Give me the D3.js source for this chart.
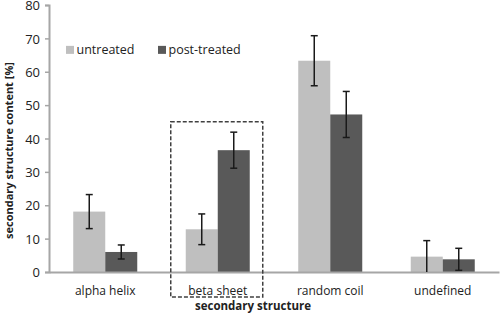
<!DOCTYPE html>
<html>
<head>
<meta charset="utf-8">
<script src="https://cdn.jsdelivr.net/npm/d3@7"></script>
<style>
  body { margin: 0; background: #fff; }
  text { font-family: "Open Sans", "Noto Sans", sans-serif; fill: #222; }
</style>
</head>
<body>
<div id="chart"></div>
<script>
// Chart data
var categories = ['alpha helix', 'beta sheet', 'random coil', 'undefined'];
var seriesNames = ['untreated', 'post-treated'];
var untreated = [18.1, 12.8, 63.3, 4.6];
var untreatedErr = [5.1, 4.6, 7.5, 4.8];
var postTreated = [6.0, 36.5, 47.2, 3.8];
var postTreatedErr = [2.1, 5.4, 6.9, 3.3];
var yTicks = [0, 10, 20, 30, 40, 50, 60, 70, 80];
var highlighted = 'beta sheet';

var width = 500;
var height = 316;
var margin = { top: 5, right: 1, bottom: 44, left: 49 };
var innerWidth = width - margin.left - margin.right;
var innerHeight = height - margin.top - margin.bottom;
var colors = ['#bfbfbf', '#595959'];

var svg = d3.select('#chart')
  .append('svg')
  .attr('width', width)
  .attr('height', height);

var g = svg.append('g')
  .attr('transform', 'translate(' + margin.left + ',' + margin.top + ')');

// Scales
var x = d3.scaleBand()
  .domain(categories)
  .range([0, innerWidth])
  .paddingInner(0)
  .paddingOuter(0);
var y = d3.scaleLinear()
  .domain([0, 80])
  .range([innerHeight, 0]);
var barWidth = 32;
var xSeries = d3.scaleBand()
  .domain(seriesNames)
  .range([x.bandwidth() / 2 - barWidth, x.bandwidth() / 2 + barWidth]);

var series = [
  { name: 'untreated', values: untreated, errors: untreatedErr },
  { name: 'post-treated', values: postTreated, errors: postTreatedErr }
];

// Bars
series.forEach(function (s, si) {
  g.selectAll('.bar-' + si)
    .data(categories)
    .enter()
    .append('rect')
    .attr('class', 'bar-' + si)
    .attr('x', function (d) { return x(d) + xSeries(s.name); })
    .attr('y', function (d, i) { return y(s.values[i]); })
    .attr('width', xSeries.bandwidth())
    .attr('height', function (d, i) { return y(0) - y(s.values[i]); })
    .attr('fill', colors[si]);
});

// Y axis
var yAxis = g.append('g')
  .call(d3.axisLeft(y).tickValues(yTicks).tickSize(4).tickPadding(5));
yAxis.select('.domain').attr('stroke', '#a6a6a6').attr('stroke-width', 2);
yAxis.selectAll('.tick line').attr('stroke', '#a6a6a6').attr('stroke-width', 1.5);
yAxis.selectAll('.tick text')
  .attr('dy', '0.36em')
  .style('font-size', '13px')
  .attr('fill', '#222');

// X axis
var xAxis = g.append('g')
  .attr('transform', 'translate(0,' + innerHeight + ')')
  .call(d3.axisBottom(x).tickSize(0).tickPadding(14));
xAxis.select('.domain').attr('stroke', '#a6a6a6').attr('stroke-width', 2);
xAxis.selectAll('.tick text')
  .style('font-size', '12px')
  .attr('fill', '#222');

// Error bars
series.forEach(function (s, si) {
  var eg = g.selectAll('.err-' + si)
    .data(categories)
    .enter()
    .append('g')
    .attr('class', 'err-' + si)
    .attr('stroke', '#1a1a1a')
    .attr('stroke-width', 1.5);
  var cx = function (d) { return x(d) + xSeries(s.name) + xSeries.bandwidth() / 2; };
  eg.append('line')
    .attr('x1', cx)
    .attr('x2', cx)
    .attr('y1', function (d, i) { return y(s.values[i] + s.errors[i]); })
    .attr('y2', function (d, i) { return y(Math.max(0, s.values[i] - s.errors[i])); });
  eg.append('line')
    .attr('x1', function (d) { return cx(d) - 3.5; })
    .attr('x2', function (d) { return cx(d) + 3.5; })
    .attr('y1', function (d, i) { return y(s.values[i] + s.errors[i]); })
    .attr('y2', function (d, i) { return y(s.values[i] + s.errors[i]); });
  eg.filter(function (d, i) { return s.values[i] - s.errors[i] >= 0; })
    .append('line')
    .attr('x1', function (d) { return cx(d) - 3.5; })
    .attr('x2', function (d) { return cx(d) + 3.5; })
    .attr('y1', function (d) {
      var i = categories.indexOf(d);
      return y(s.values[i] - s.errors[i]);
    })
    .attr('y2', function (d) {
      var i = categories.indexOf(d);
      return y(s.values[i] - s.errors[i]);
    });
});

// Dashed box round the highlighted group
var hx = x(highlighted);
g.append('rect')
  .attr('x', hx + x.bandwidth() / 2 - 47)
  .attr('y', y(45))
  .attr('width', 92)
  .attr('height', innerHeight - y(45) + 25)
  .attr('fill', 'none')
  .attr('stroke', '#404040')
  .attr('stroke-width', 1.5)
  .attr('stroke-dasharray', '4,2');

// Legend
var legend = g.selectAll('.legend')
  .data(seriesNames)
  .enter()
  .append('g')
  .attr('class', 'legend')
  .attr('transform', function (d, i) {
    return 'translate(' + (17 + i * 92) + ',' + (y(70) + 7.5) + ')';
  });
legend.append('rect')
  .attr('width', 8)
  .attr('height', 8)
  .attr('fill', function (d, i) { return colors[i]; });
legend.append('text')
  .attr('x', 10.5)
  .attr('y', 8.5)
  .style('font-size', '12.5px')
  .text(function (d) { return d; });

// Axis titles
svg.append('text')
  .attr('transform', 'translate(13,' + (margin.top + innerHeight / 2 + 12) + ') rotate(-90)')
  .attr('text-anchor', 'middle')
  .style('font-size', '11px')
  .style('font-weight', 'bold')
  .text('secondary structure content [%]');
svg.append('text')
  .attr('x', 253)
  .attr('y', 310)
  .attr('text-anchor', 'middle')
  .style('font-size', '11.5px')
  .style('font-weight', 'bold')
  .text('secondary structure');
</script>
</body>
</html>
